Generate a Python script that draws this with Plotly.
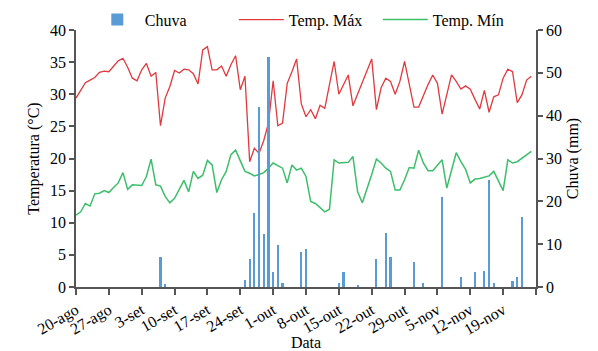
import datetime as dt
import plotly.graph_objects as go
from plotly.subplots import make_subplots

start = dt.date(2021, 8, 20)
n_days = 98
dates = [start + dt.timedelta(days=i) for i in range(n_days)]

temp_max = [29.4, 30.5, 31.8, 32.2, 32.6, 33.4, 33.6, 33.5, 34.3, 35.2,
            35.6, 34.2, 32.5, 32.1, 33.8, 34.8, 32.8, 33.4, 25.1, 29.4,
            31.2, 33.7, 33.3, 33.9, 33.8, 33.2, 31.6, 36.9, 37.4, 33.8,
            33.8, 34.4, 32.8, 34.6, 36.0, 30.7, 32.8, 19.5, 21.6, 20.8,
            22.8, 25.5, 32.1, 25.1, 25.5, 31.7, 33.5, 35.5, 28.5, 26.5,
            27.6, 26.2, 28.3, 27.8, 31.5, 35.1, 30.0, 31.5, 33.0, 28.2,
            30.0, 31.7, 33.5, 35.5, 27.6, 31.0, 32.5, 32.0, 30.0, 32.0,
            35.1, 31.5, 28.0, 28.0, 29.8, 31.5, 33.0, 31.7, 26.9, 30.0,
            33.0, 32.0, 30.8, 31.3, 30.8, 29.2, 27.7, 30.6, 27.2, 29.6,
            29.9, 32.5, 33.9, 33.5, 28.7, 29.9, 32.2, 32.8]

temp_min = [11.2, 11.7, 13.0, 12.6, 14.5, 14.6, 15.0, 14.7, 15.5, 16.2,
            17.8, 15.2, 15.9, 15.8, 15.8, 17.2, 19.9, 15.9, 15.7, 14.1,
            13.1, 13.8, 15.2, 16.6, 14.8, 18.0, 16.9, 17.4, 19.7, 19.0,
            14.7, 16.7, 18.0, 20.6, 21.3, 19.5, 18.0, 17.7, 17.3, 17.5,
            17.8, 18.5, 19.3, 18.9, 18.5, 16.2, 19.0, 18.2, 18.5, 17.2,
            13.3, 13.0, 12.3, 11.7, 12.1, 19.8, 19.3, 19.3, 19.4, 20.3,
            14.8, 13.1, 15.5, 17.5, 19.9, 19.3, 18.5, 18.0, 15.1, 15.1,
            16.7, 18.6, 18.5, 21.3, 19.3, 18.1, 18.1, 19.0, 19.8, 15.4,
            18.0, 20.9, 19.5, 18.3, 16.2, 16.8, 16.9, 17.1, 17.3, 18.0,
            16.5, 15.0, 19.8, 19.3, 19.5, 20.0, 20.5, 21.1]

rain = [0] * n_days
rain_events = {18: 6.9, 19: 0.7, 36: 1.6, 37: 6.6, 38: 17.2, 39: 42.0,
               40: 12.3, 41: 53.7, 42: 3.6, 43: 9.7, 44: 1.0, 48: 8.2,
               49: 8.8, 56: 1.0, 57: 3.5, 60: 0.5, 64: 6.6, 66: 12.5,
               67: 6.9, 72: 5.8, 74: 1.0, 78: 21.0, 82: 2.3, 85: 3.5,
               87: 3.8, 88: 25.0, 89: 1.0, 93: 1.3, 94: 2.3, 95: 16.3}
for k, v in rain_events.items():
    rain[k] = v

tick_labels = ["20-ago", "27-ago", "3-set", "10-set", "17-set", "24-set",
               "1-out", "8-out", "15-out", "22-out", "29-out", "5-nov",
               "12-nov", "19-nov", ""]
tick_dates = [start + dt.timedelta(days=7 * i) for i in range(len(tick_labels))]

FONT = "Liberation Serif, Times New Roman, serif"
AX = "#555555"

fig = make_subplots(specs=[[{"secondary_y": True}]])
fig.add_trace(go.Bar(x=dates, y=rain, name="Chuva", marker_color="#5B9BD5",
                     marker_line_width=0, width=0.45 * 86400000),
              secondary_y=True)
fig.add_trace(go.Scatter(x=dates, y=temp_max, name="Temp. Máx", mode="lines",
                         line=dict(color="#E0393E", width=1.3)),
              secondary_y=False)
fig.add_trace(go.Scatter(x=dates, y=temp_min, name="Temp. Mín", mode="lines",
                         line=dict(color="#3DBE6A", width=1.5)),
              secondary_y=False)

fig.update_layout(
    width=590, height=343,
    margin=dict(l=68, r=62, t=22, b=64, autoexpand=False),
    paper_bgcolor="white", plot_bgcolor="white",
    font=dict(family=FONT, size=15, color="black"),
    showlegend=True,
    legend=dict(orientation="h", x=0.03, xanchor="left", y=1.04, yanchor="middle",
                font=dict(size=16), itemwidth=45, bgcolor="rgba(0,0,0,0)",
                traceorder="normal", tracegroupgap=0,
                entrywidth=84, entrywidthmode="pixels"),
    bargap=0,
)
fig.update_xaxes(
    type="date", automargin=False, domain=[0, 1],
    range=[start, start + dt.timedelta(days=98)],
    tickmode="array", tickvals=tick_dates, ticktext=tick_labels,
    tickangle=-30, ticks="outside", ticklen=6, tickcolor=AX, tickwidth=1.5,
    showline=True, linecolor=AX, linewidth=1.5, showgrid=False, zeroline=False,
    title=dict(text="Data", standoff=0, font=dict(size=16)),
    tickfont=dict(size=16),
)
fig.update_yaxes(
    range=[0, 40], dtick=5, ticks="outside", ticklen=5, tickcolor=AX, tickwidth=1.5,
    showline=True, linecolor=AX, linewidth=1.5, showgrid=False, zeroline=False,
    automargin=False,
    title=dict(text="Temperatura (°C)", standoff=6, font=dict(size=16)),
    tickfont=dict(size=16),
    secondary_y=False,
)
fig.update_yaxes(
    range=[0, 60], dtick=10, ticks="outside", ticklen=5, tickcolor=AX, tickwidth=1.5,
    showline=True, linecolor=AX, linewidth=1.5, showgrid=False, zeroline=False,
    automargin=False,
    title=dict(text="Chuva (mm)", standoff=6, font=dict(size=16)),
    tickfont=dict(size=16),
    secondary_y=True,
)

fig.write_html("out.html")
